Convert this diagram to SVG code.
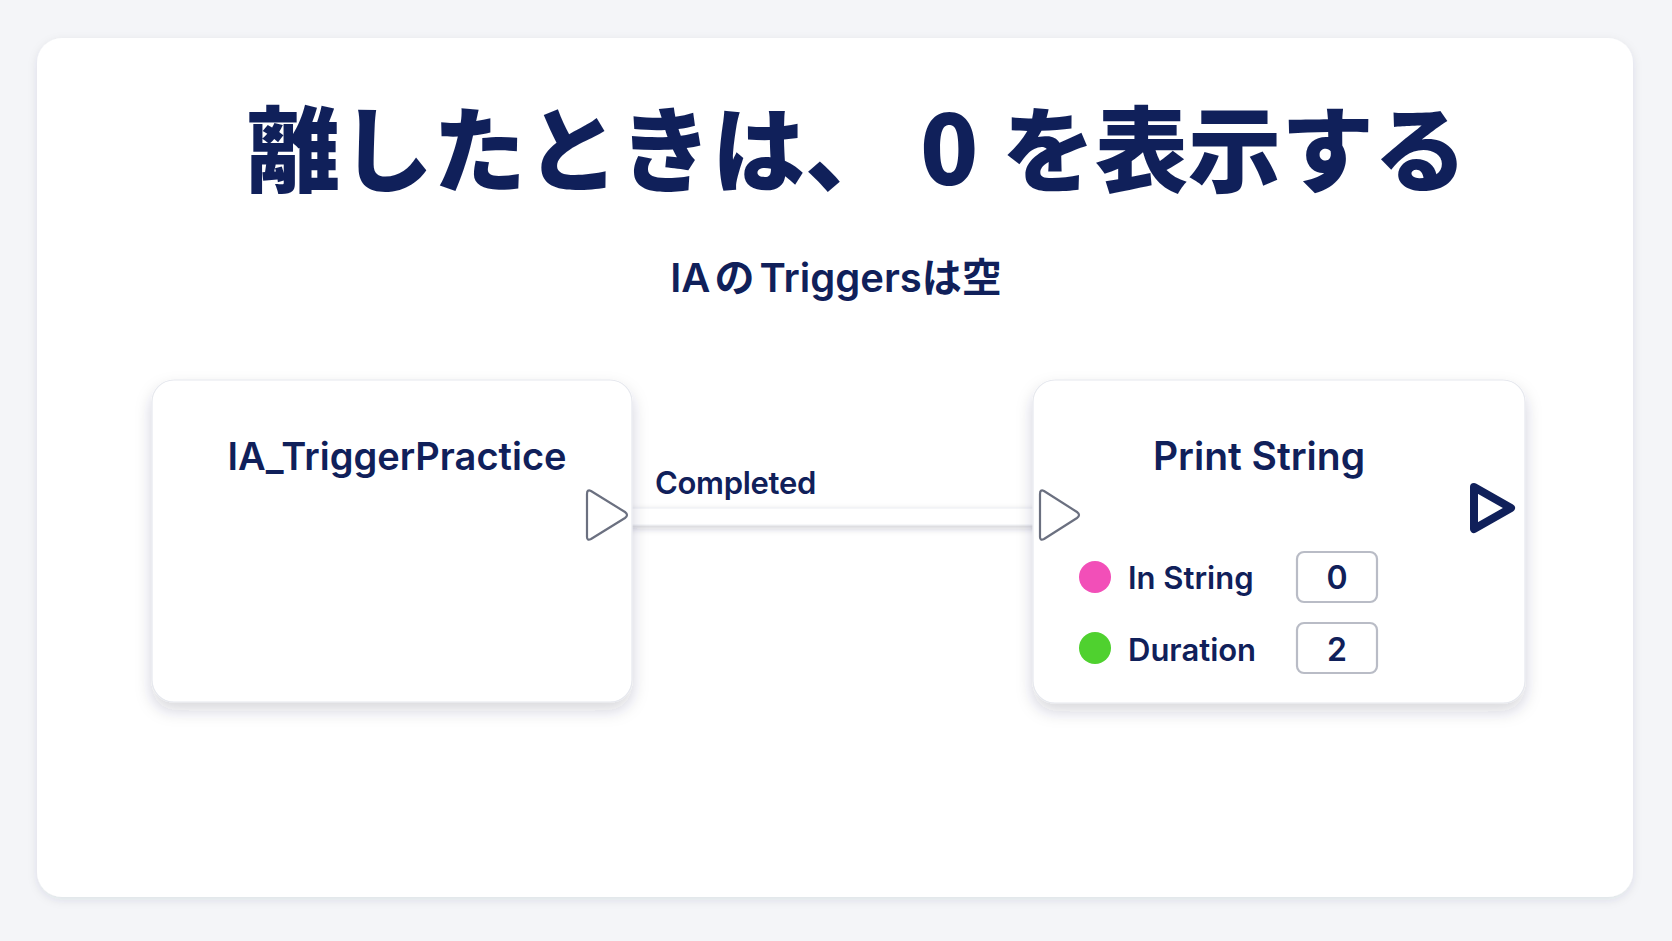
<svg xmlns="http://www.w3.org/2000/svg" width="1672" height="941" viewBox="0 0 1672 941">
  <defs>
    <filter id="cardShadow" x="-5%" y="-5%" width="110%" height="115%">
      <feDropShadow dx="0" dy="3" stdDeviation="5" flood-color="#1f2a44" flood-opacity="0.10"/>
    </filter>
    <filter id="nodeShadow" x="-10%" y="-10%" width="120%" height="130%">
      <feDropShadow dx="0" dy="8" stdDeviation="8" flood-color="#1f2a44" flood-opacity="0.18"/>
    </filter>
    <filter id="barShadow" x="-5%" y="-150%" width="110%" height="400%">
      <feDropShadow dx="0" dy="3" stdDeviation="3.5" flood-color="#1f2a44" flood-opacity="0.22"/>
    </filter>
  </defs>
  <style>
    .t { fill: #10205a; font-family: "Inter", "Noto Sans", "Noto Sans CJK JP", sans-serif; font-weight: 600; }
    .title { fill: #10205a; font-family: "Noto Sans CJK JP", "Noto Sans", sans-serif; font-weight: 900; font-size: 93px; }
    .sub { fill: #10205a; font-family: "Inter", "Noto Sans CJK JP", sans-serif; font-weight: 600; font-size: 40px; }
    .node { fill: #ffffff; stroke: #e6e8ee; stroke-width: 1.2; filter: url(#nodeShadow); }
    .pinIn { fill: #ffffff; stroke: #6b7080; stroke-width: 2.2; stroke-linejoin: round; }
    .pinOut { fill: #ffffff; stroke: #10205a; stroke-width: 8; stroke-linejoin: round; }
    .vbox { fill: #ffffff; stroke: #b9bcc6; stroke-width: 2.2; }
  </style>

  <rect x="0" y="0" width="1672" height="941" fill="#f4f5f8"/>
  <rect x="37" y="38" width="1596" height="859" rx="25" fill="#ffffff" filter="url(#cardShadow)"/>

  <g id="title">
    <text class="title" y="185"><tspan x="247">離したときは、</tspan><tspan x="920" font-size="96">0</tspan><tspan x="1002">を表示する</tspan></text>
  </g>
  <g id="subtitle">
    <text class="sub" x="836" y="292" text-anchor="middle">IA<tspan dx="4">の</tspan><tspan dx="5">Triggers</tspan>は空</text>
  </g>

  <g id="connectors">
    <rect x="629" y="508" width="410" height="17" fill="#ffffff" stroke="#eceef2" stroke-width="1" filter="url(#barShadow)"/>
    <text class="t" x="655" y="494" font-size="31" letter-spacing="-0.3">Completed</text>
  </g>

  <g id="node-ia">
    <rect class="node" x="152" y="380" width="480" height="322" rx="22"/>
    <text class="t" x="397" y="470" font-size="38" text-anchor="middle">IA_TriggerPractice</text>
    <path class="pinIn" d="M587,494 Q587,489 591,491 L625,512 Q629,515 625,518 L591,539 Q587,541 587,537 Z"/>
  </g>

  <g id="node-print">
    <rect class="node" x="1033" y="380" width="492" height="323" rx="22"/>
    <text class="t" x="1259" y="470" font-size="39" text-anchor="middle">Print String</text>
    <path class="pinIn" d="M1040,494 Q1040,489 1044,491 L1077,512 Q1081,515 1077,518 L1044,539 Q1040,541 1040,537 Z"/>
    <path class="pinOut" d="M1474,487 L1511,508 L1474,529 Z"/>
    <circle cx="1095" cy="577" r="16" fill="#f24fb8"/>
    <text class="t" x="1128" y="589" font-size="31">In String</text>
    <rect class="vbox" x="1297" y="552" width="80" height="50" rx="7"/>
    <text class="t" x="1337" y="589" font-size="32" text-anchor="middle">0</text>
    <circle cx="1095" cy="648" r="16" fill="#4fd12f"/>
    <text class="t" x="1128" y="661" font-size="31">Duration</text>
    <rect class="vbox" x="1297" y="623" width="80" height="50" rx="7"/>
    <text class="t" x="1337" y="661" font-size="32" text-anchor="middle">2</text>
  </g>
</svg>
